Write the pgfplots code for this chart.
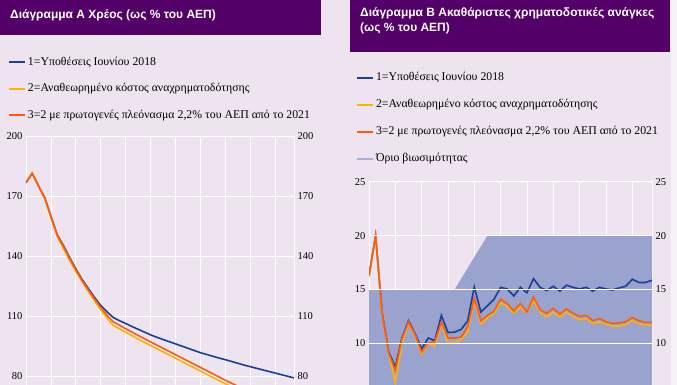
\documentclass[border=0pt]{standalone}
\usepackage{pgfplots}
\pgfplotsset{compat=1.18}
\usepackage{fontspec}
\setmainfont{Liberation Serif}
\newfontfamily\titlefont{Liberation Sans}
\definecolor{bgc}{HTML}{EEE4F0}
\definecolor{titc}{HTML}{540069}
\definecolor{bluec}{HTML}{1A3E9C}
\definecolor{orangec}{HTML}{FF5B0F}
\definecolor{yellowc}{HTML}{FFB300}
\definecolor{fillc}{HTML}{9AA2CE}
\definecolor{legfill}{HTML}{A9AFDA}
\pgfplotsset{
  common/.style={scale only axis, anchor=north west, xmin=0, xmax=43,
    xtick={0,4,...,40}, xticklabels={}, major tick length=0pt,
    tick label style={font=\fontsize{10.5}{12}\selectfont},
    /pgf/number format/assume math mode=true,
    axis line style={white, line width=0.8pt},
    grid style={white, line width=0.8pt},
    legend cell align=left,
    legend style={draw=none, fill=none, inner sep=0pt, anchor=north west,
      font=\fontsize{11.8}{13}\selectfont, column sep=2pt,
      nodes={inner sep=0pt, text height=8.5pt, text depth=2.5pt}},
  },
  rightlab/.style={scale only axis, anchor=north west, xmin=0, xmax=43,
    axis x line=none, axis y line*=right, y axis line style={draw=none},
    major tick length=0pt,
    tick label style={font=\fontsize{10.5}{12}\selectfont},
    /pgf/number format/assume math mode=true,
    grid style={white, line width=0.8pt},
  },
}
\begin{document}
\begin{tikzpicture}
\useasboundingbox (0,0) rectangle (677pt,-385pt);
\clip (0,0) rectangle (677pt,-385pt);
\fill[bgc] (0,0) rectangle (677pt,-385pt);
\fill[bgc!50!white] (671pt,0) rectangle (677pt,-385pt);
\fill[titc] (0,0) rectangle (321pt,-35pt);
\fill[titc] (350pt,0) rectangle (670pt,-52pt);
\node[anchor=base west, text=white, inner sep=0pt, font=\titlefont\bfseries\fontsize{12}{14}\selectfont] at (10pt,-19pt) {Διάγραμμα Α Χρέος (ως \% του ΑΕΠ)};
\node[anchor=base west, text=white, inner sep=0pt, font=\titlefont\bfseries\fontsize{12}{14}\selectfont] at (360pt,-17pt) {Διάγραμμα Β Ακαθάριστες χρηματοδοτικές ανάγκες};
\node[anchor=base west, text=white, inner sep=0pt, font=\titlefont\bfseries\fontsize{12}{14}\selectfont] at (360pt,-32pt) {(ως \% του ΑΕΠ)};

% ---------------- Panel A ----------------
\begin{axis}[common, at={(26pt,-136.5pt)}, width=268pt, height=260pt,
  ymin=70, ymax=200, ytick={80,110,140,170,200}, xmajorgrids, ymajorgrids,
  legend style={at={(axis description cs:-0.0672,1.3077)}, row sep=15.5pt},
  legend image code/.code={\draw[#1] (0pt,0pt) -- (16pt,0pt);}]
\addlegendimage{bluec, line width=1.8pt}
\addlegendentry{1=Υποθέσεις Ιουνίου 2018}
\addlegendimage{yellowc, line width=1.8pt}
\addlegendentry{2=Αναθεωρημένο κόστος αναχρηματοδότησης}
\addlegendimage{orangec, line width=1.8pt}
\addlegendentry{3=2 με πρωτογενές πλεόνασμα 2,2\% του ΑΕΠ από το 2021}
\addplot[bluec, line width=1.6pt, forget plot] coordinates {
(0,176.9) (1,181.6) (2,175.3) (3,169.4) (4,160.2) (5,151.0) (6,145.5) (7,139.5) (8,133.8) (9,128.5)
(10,124.0) (11,119.5) (12,115.5) (13,112.3) (14,109.5) (15,107.9) (16,106.5) (17,105.0) (18,103.6) (19,102.2)
(20,100.8) (21,99.6) (22,98.5) (23,97.4) (24,96.3) (25,95.2) (26,94.1) (27,93.0) (28,91.9) (29,91.0)
(30,90.1) (31,89.2) (32,88.4) (33,87.5) (34,86.6) (35,85.7) (36,84.9) (37,84.1) (38,83.3) (39,82.5)
(40,81.7) (41,80.9) (42,80.1) (43,79.3)};
\addplot[yellowc, line width=1.6pt, forget plot] coordinates {
(0,176.9) (1,181.6) (2,175.3) (3,169.0) (4,159.5) (5,150.0) (6,144.0) (7,138.0) (8,132.5) (9,127.5)
(10,122.5) (11,117.8) (12,113.3) (13,109.2) (14,105.5) (15,103.8) (16,102.1) (17,100.4) (18,98.7) (19,97.1)
(20,95.5) (21,93.9) (22,92.3) (23,90.7) (24,89.1) (25,87.5) (26,85.9) (27,84.3) (28,82.7) (29,81.1)
(30,79.5) (31,77.9) (32,76.3) (33,74.8) (34,73.3) (35,71.8)};
\addplot[orangec, line width=1.6pt, forget plot] coordinates {
(0,176.9) (1,181.6) (2,175.3) (3,169.4) (4,160.0) (5,150.8) (6,145.0) (7,139.0) (8,133.4) (9,128.0)
(10,123.3) (11,118.7) (12,114.5) (13,110.5) (14,107.3) (15,105.6) (16,103.9) (17,102.2) (18,100.5) (19,98.9)
(20,97.3) (21,95.7) (22,94.1) (23,92.5) (24,90.9) (25,89.3) (26,87.7) (27,86.1) (28,84.5) (29,82.9)
(30,81.3) (31,79.7) (32,78.1) (33,76.6) (34,75.1) (35,73.6)};
\end{axis}
\begin{axis}[rightlab, at={(26pt,-136.5pt)}, width=268pt, height=260pt,
  ymin=70, ymax=200, ytick={80,110,140,170,200}]
\end{axis}

% ---------------- Panel B ----------------
\begin{axis}[common, at={(369pt,-181.7pt)}, width=283pt, height=215.6pt,
  ymin=5, ymax=25, ytick={10,15,20,25}, xmajorgrids,
  legend style={at={(axis description cs:-0.0459,1.5088)}, row sep=16pt},
  legend image code/.code={\draw[#1] (0pt,0pt) -- (16pt,0pt);}]
\addlegendimage{bluec, line width=1.8pt}
\addlegendentry{1=Υποθέσεις Ιουνίου 2018}
\addlegendimage{yellowc, line width=1.8pt}
\addlegendentry{2=Αναθεωρημένο κόστος αναχρηματοδότησης}
\addlegendimage{orangec, line width=1.8pt}
\addlegendentry{3=2 με πρωτογενές πλεόνασμα 2,2\% του ΑΕΠ από το 2021}
\addlegendimage{legfill, line width=1.8pt}
\addlegendentry{Όριο βιωσιμότητας}
\addplot[fill=fillc, draw=none, forget plot] coordinates {(0,15) (13,15) (18,20) (43,20)} \closedcycle;
\addplot[bluec, line width=1.6pt, forget plot] coordinates {
(0,16.3) (1,20.0) (2,12.8) (3,9.2) (4,7.8) (5,10.5) (6,12.1) (7,10.9) (8,9.5) (9,10.5)
(10,10.25) (11,12.6) (12,11.0) (13,11.05) (14,11.3) (15,12.1) (16,15.25) (17,12.9) (18,13.5) (19,14.1)
(20,15.2) (21,15.05) (22,14.4) (23,15.2) (24,14.7) (25,16.0) (26,15.2) (27,14.9) (28,15.3) (29,14.85)
(30,15.4) (31,15.2) (32,15.05) (33,15.2) (34,14.85) (35,15.2) (36,15.05) (37,14.95) (38,15.15) (39,15.3)
(40,15.95) (41,15.65) (42,15.65) (43,15.85)};
\addplot[yellowc, line width=1.6pt, forget plot] coordinates {
(0,16.2) (1,19.9) (2,12.6) (3,9.0) (4,6.4) (5,10.0) (6,11.9) (7,10.7) (8,9.0) (9,10.0)
(10,9.75) (11,11.85) (12,10.05) (13,10.05) (14,10.35) (15,11.1) (16,14.0) (17,11.8) (18,12.4) (19,12.8)
(20,13.75) (21,13.45) (22,12.8) (23,13.4) (24,12.85) (25,14.0) (26,12.9) (27,12.45) (28,12.9) (29,12.5)
(30,12.9) (31,12.5) (32,12.2) (33,12.3) (34,11.85) (35,12.0) (36,11.8) (37,11.6) (38,11.6) (39,11.75)
(40,12.1) (41,11.85) (42,11.7) (43,11.65)};
\addplot[orangec, line width=1.6pt, forget plot] coordinates {
(0,16.3) (1,20.0) (2,12.7) (3,9.1) (4,7.5) (5,10.4) (6,12.0) (7,10.8) (8,9.2) (9,10.05)
(10,10.15) (11,12.0) (12,10.5) (13,10.5) (14,10.6) (15,11.55) (16,14.2) (17,12.1) (18,12.6) (19,13.0)
(20,14.1) (21,13.7) (22,13.0) (23,13.7) (24,12.9) (25,14.3) (26,13.1) (27,12.8) (28,13.25) (29,12.7)
(30,13.2) (31,12.8) (32,12.5) (33,12.6) (34,12.1) (35,12.3) (36,12.0) (37,11.85) (38,11.9) (39,12.0)
(40,12.4) (41,12.1) (42,11.95) (43,11.95)};
\end{axis}
\begin{axis}[rightlab, at={(369pt,-181.7pt)}, width=283pt, height=215.6pt,
  ymin=5, ymax=25, ytick={10,15,20,25}, ymajorgrids]
\end{axis}
\end{tikzpicture}
\end{document}
